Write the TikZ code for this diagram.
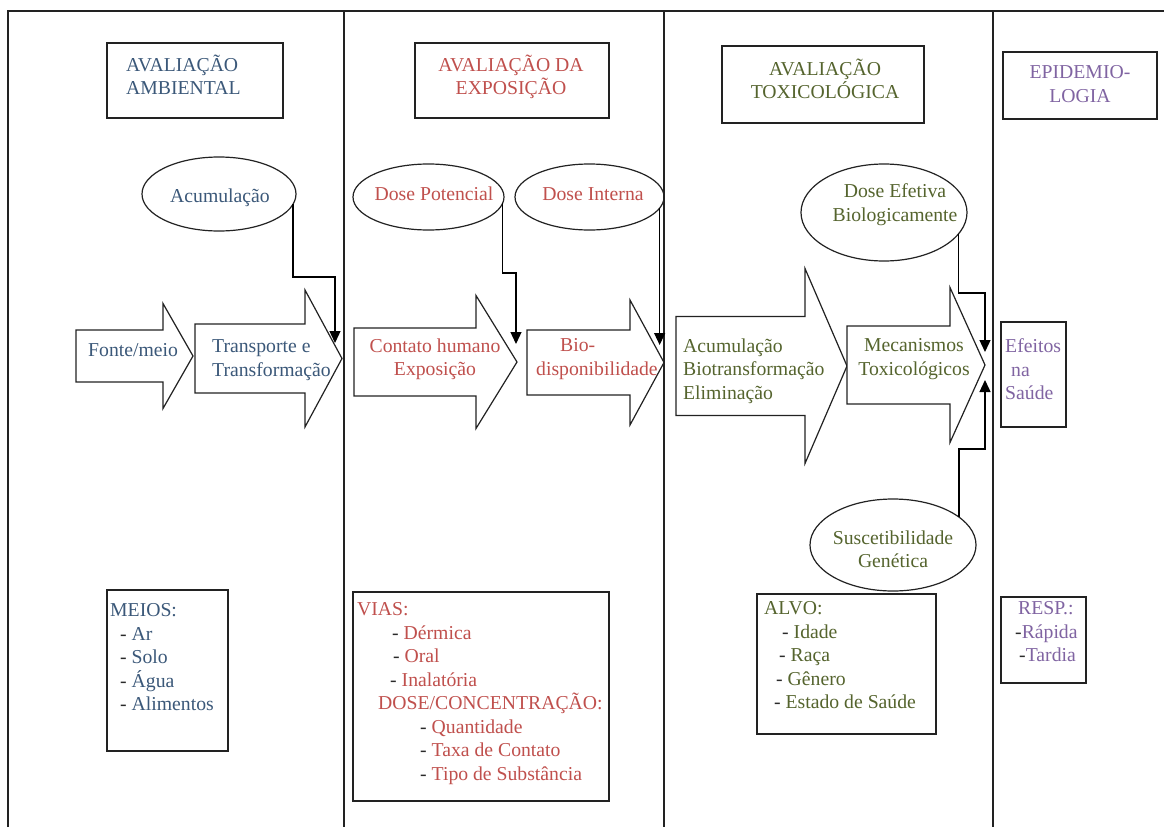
\documentclass[tikz,border=0pt]{standalone}
\usepackage{fontspec}
\IfFontExistsTF{LiberationSerif-Regular.ttf}
  {\setmainfont{LiberationSerif-Regular.ttf}}
  {\IfFontExistsTF{texgyretermes-regular.otf}
     {\setmainfont{texgyretermes-regular.otf}}
     {\setmainfont{Liberation Serif}}}
\usetikzlibrary{arrows.meta,shapes.geometric}

\definecolor{lc}{HTML}{222222}
\definecolor{dk}{HTML}{2A2A2A}
\definecolor{amb}{HTML}{3B5879}
\definecolor{expo}{HTML}{C0504D}
\definecolor{tox}{HTML}{55642E}
\definecolor{epi}{HTML}{8064A2}

\newcommand\dgmfont{\fontsize{19.7}{23.5}\selectfont}
\newcommand\dsh{{\color{dk}-}}
% block arrow: x start, x head base, x tip, y centre, shaft half width, head half width
\newcommand\blkarrow[6]{%
  \draw[barrow] (#1,#4-#5) -- (#2,#4-#5) -- (#2,#4-#6) -- (#3,#4)
    -- (#2,#4+#6) -- (#2,#4+#5) -- (#1,#4+#5) -- cycle;}

\begin{document}
\begin{tikzpicture}[x=1pt,y=-1pt,
  frame/.style={draw=lc,line width=1.3pt},
  box/.style={draw=lc,rectangle,inner sep=0pt,outer sep=0pt,line width=1.3pt,anchor=north west},
  ell/.style={draw=lc,ellipse,inner sep=0pt,outer sep=0pt,line width=1.2pt},
  barrow/.style={draw=lc,fill=white,line width=1.2pt,line join=miter},
  conn/.style={draw=black,line width=1.3pt,-{Triangle[length=12pt,width=11pt]}},
  txt/.style={inner sep=0pt,anchor=north west,align=left,yshift=16.45pt,
    font=\dgmfont,execute at begin node=\strut},
  txtc/.style={txt,anchor=north,align=center}]

\useasboundingbox (0,0) rectangle (1164,827);
\fill[white] (0,0) rectangle (1164,827);

% column frame
\draw[frame] (8,827) -- (8,11) -- (1164,11);
\draw[frame] (344,11) -- (344,827);
\draw[frame] (664,11) -- (664,827);
\draw[frame] (993,11) -- (993,827);

% column headers
\node[box,minimum width=176pt,minimum height=75pt] (hAmb) at (107,43) {};
\node[box,minimum width=194pt,minimum height=75pt] (hExp) at (415,43) {};
\node[box,minimum width=202pt,minimum height=77pt] (hTox) at (722,46) {};
\node[box,minimum width=154pt,minimum height=67pt] (hEpi) at (1003,52) {};
\node[txt,text=amb] (hAmbT) at (126,71) {AVALIAÇÃO\\AMBIENTAL};
\node[txtc,text=expo] (hExpT) at (511,71) {AVALIAÇÃO DA\\EXPOSIÇÃO};
\node[txtc,text=tox] (hToxT) at (825,75) {AVALIAÇÃO\\TOXICOLÓGICA};
\node[txtc,text=epi] (hEpiT) at (1080,82) {EPIDEMIO-\\LOGIA};

% ellipses
\node[ell,minimum width=154pt,minimum height=74pt] (acum) at (219,194) {};
\node[ell,minimum width=151pt,minimum height=66pt] (dp) at (428.5,197) {};
\node[ell,minimum width=149pt,minimum height=66pt] (di) at (589.5,197) {};
\node[ell,minimum width=166pt,minimum height=97pt] (de) at (884,212.5) {};
\node[ell,minimum width=166pt,minimum height=92pt] (sg) at (893,545) {};
\node[txtc,text=amb] (acumT) at (220,202) {Acumulação};
\node[txtc,text=expo] (dpT) at (434,200) {Dose Potencial};
\node[txtc,text=expo] (diT) at (593,200) {Dose Interna};
\node[txtc,text=tox] (deT) at (895,200) {Dose Efetiva\\Biologicamente};
\node[txtc,text=tox] (sgT) at (893,547) {Suscetibilidade\\Genética};

% block arrows of the chain
\blkarrow{76}{163}{193}{356}{26}{52.5}
\blkarrow{195}{305}{342}{358.5}{34.5}{68.5}
\blkarrow{354}{476}{517}{362}{34}{66.5}
\blkarrow{527}{630}{664}{362.5}{32.5}{62.5}
\blkarrow{676}{805}{847}{366}{49.5}{97.5}
\blkarrow{847}{950}{985}{365}{39}{77.5}

\node[txt,text=amb] (fonte) at (88,356) {Fonte/meio};
\node[txt,text=amb] (transp) at (212,356) {Transporte e\\Transformação};
\node[txtc,text=expo] (contato) at (435,355) {Contato humano\\Exposição};
\node[txt,text=expo] (biod) at (536,355) {\hspace*{24pt}Bio-\\disponibilidade};
\node[txt,text=tox] (biot) at (683,355) {Acumulação\\Biotransformação\\Eliminação};
\node[txtc,text=tox] (mecan) at (914,355) {Mecanismos\\Toxicológicos};

% health effects
\node[box,minimum width=65pt,minimum height=105pt] (efeitos) at (1001,322) {};
\node[txt,text=epi] (efeitosT) at (1005,355) {Efeitos\\\hspace*{6pt}na\\Saúde};

% connectors from the ellipses
\coordinate (kA) at (335,277); \coordinate (tA) at (335,343);
\coordinate (kP) at (516,273); \coordinate (tP) at (516,344);
\coordinate (tI) at (659,345);
\coordinate (kE) at (985,293); \coordinate (tE) at (985,352);
\coordinate (kS) at (985,449); \coordinate (tS) at (985,380);
\draw[conn] (acum.-8) |- (kA) -- (tA);
\draw[conn] (dp.-5) |- (kP) -- (tP);
\draw[conn] (di.-9.7) -- (di.-9.7 |- tI);
\draw[conn] (de.-16.6) |- (kE) -- (tE);
\draw[conn] (sg.23.7) |- (kS) -- (tS);

% lists at the bottom
\node[box,minimum width=121pt,minimum height=161pt] (meios) at (107,590) {};
\node[box,minimum width=256pt,minimum height=209pt] (vias) at (353,592) {};
\node[box,minimum width=179pt,minimum height=140pt] (alvo) at (757,594) {};
\node[box,minimum width=85pt,minimum height=86pt] (resp) at (1001,597) {};

\node[txt,text=amb] (meiosT) at (110,620)
  {MEIOS:\\\hspace*{10pt}\dsh{} Ar\\\hspace*{10pt}\dsh{} Solo\\\hspace*{10pt}\dsh{} Água\\\hspace*{10pt}\dsh{} Alimentos};
\node[txt,text=expo] (viasT) at (357,619)
  {VIAS:\\\hspace*{35pt}\dsh{} Dérmica\\\hspace*{36pt}\dsh{} Oral\\\hspace*{33pt}\dsh{} Inalatória\\%
   \hspace*{21pt}DOSE/CONCENTRAÇÃO:\\\hspace*{63pt}\dsh{} Quantidade\\%
   \hspace*{63pt}\dsh{} Taxa de Contato\\\hspace*{63pt}\dsh{} Tipo de Substância};
\node[txt,text=tox] (alvoT) at (764,618)
  {ALVO:\\\hspace*{18pt}\dsh{} Idade\\\hspace*{15pt}\dsh{} Raça\\\hspace*{12pt}\dsh{} Gênero\\\hspace*{10pt}\dsh{} Estado de Saúde};
\node[txt,text=epi] (respT) at (1015,618)
  {\hspace*{3pt}RESP.:\\\dsh Rápida\\\hspace*{4pt}\dsh Tardia};

\end{tikzpicture}
\end{document}
